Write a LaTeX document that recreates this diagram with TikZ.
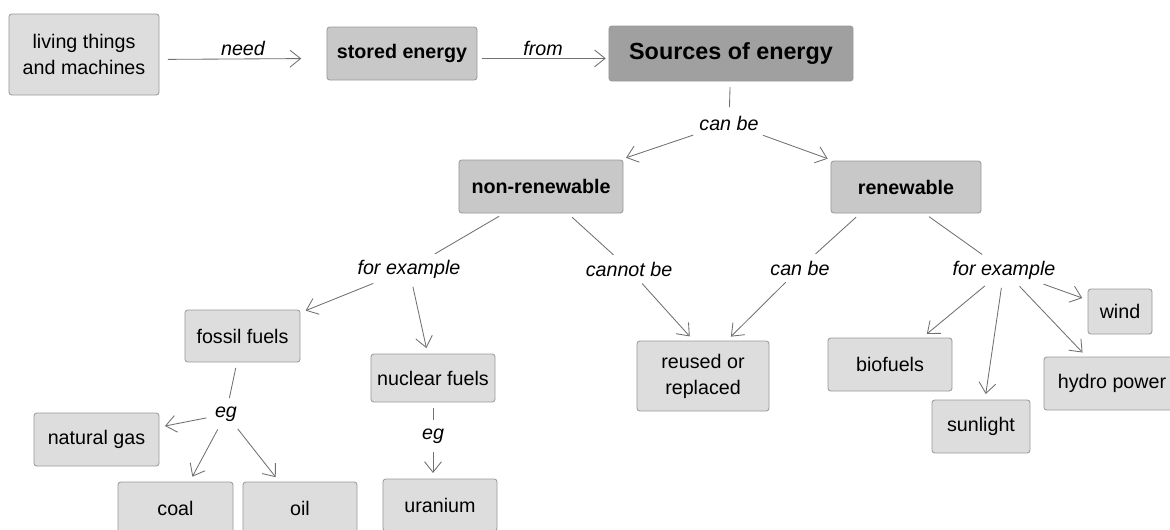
\documentclass[tikz,border=0pt]{standalone}
\usepackage{fontspec}
\setmainfont{Liberation Sans}
\usetikzlibrary{arrows.meta}
\definecolor{boxlight}{HTML}{DDDDDD}
\definecolor{boxmid}{HTML}{C8C8C8}
\definecolor{boxdark}{HTML}{A0A0A0}
\definecolor{boxline}{HTML}{9A9A9A}
\definecolor{linkgray}{HTML}{707070}

\begin{document}
\begin{tikzpicture}[x=0.025cm,y=-0.025cm,
    concept/.style={draw=boxline,fill=boxlight,rounded corners=2pt,line width=0.6pt,inner sep=0pt,align=center,font=\fontsize{14pt}{18.5pt}\selectfont},
    mainconcept/.style={concept,fill=boxmid,font=\fontsize{14pt}{18.5pt}\selectfont\bfseries},
    topconcept/.style={concept,fill=boxdark,font=\fontsize{16.6pt}{20pt}\selectfont\bfseries},
    linkword/.style={inner sep=2pt,font=\fontsize{14pt}{18.5pt}\selectfont\itshape},
    link/.style={draw=linkgray,line width=0.6pt,shorten <=4pt,shorten >=4pt},
    arrow/.style={link,-{Straight Barb[length=7.5pt,width=12pt]}}]
    \useasboundingbox (0,0) rectangle (1170,529);
    \fill[white] (0,0) rectangle (1170,529);
    % top row
    \node[concept,minimum width=3.75cm,minimum height=2.025cm] (living) at (84,54.5) {living things\\and machines};
    \node[mainconcept,minimum width=3.75cm,minimum height=1.325cm] (stored) at (402,53.5) {stored energy};
    \node[topconcept,minimum width=6.1cm,minimum height=1.375cm] (sources) at (731,53.5) {Sources of energy};
    \node[linkword] (canbetop) at (729,123) {can be};
    \node[mainconcept,minimum width=4.1cm,minimum height=1.325cm] (nonrenew) at (541,186.5) {non-renewable};
    \node[mainconcept,minimum width=3.75cm,minimum height=1.3cm] (renew) at (906,187) {renewable};
    \node[linkword] (forexleft) at (409,269) {for example};
    \node[linkword] (cannotbe) at (629,269) {cannot be};
    \node[linkword] (canberight) at (800,268) {can be};
    \node[linkword] (forexright) at (1004,270) {for example};
    % examples
    \node[concept,minimum width=2.875cm,minimum height=1.3cm] (fossil) at (242.5,336) {fossil fuels};
    \node[concept,minimum width=3.1cm,minimum height=1.2cm] (nuclear) at (433,378) {nuclear fuels};
    \node[concept,minimum width=3.3cm,minimum height=1.75cm] (reused) at (703,376) {reused or\\replaced};
    \node[concept,minimum width=3.1cm,minimum height=1.325cm] (biofuels) at (890,364.5) {biofuels};
    \node[concept,minimum width=2.45cm,minimum height=1.325cm] (sunlight) at (981,426.5) {sunlight};
    \node[concept,minimum width=3.4cm,minimum height=1.325cm] (hydro) at (1112,383.5) {hydro power};
    \node[concept,minimum width=1.6cm,minimum height=1.125cm] (wind) at (1120,311.5) {wind};
    \node[linkword] (egfossil) at (226,414) {eg};
    \node[linkword] (egnuclear) at (433,436) {eg};
    \node[concept,minimum width=3.125cm,minimum height=1.325cm] (natgas) at (96.5,439.5) {natural gas};
    \node[concept,minimum width=2.875cm,minimum height=1.3cm] (coal) at (175.5,508) {coal};
    \node[concept,minimum width=2.85cm,minimum height=1.3cm] (oil) at (300,508) {oil};
    \node[concept,minimum width=2.85cm,minimum height=1.3cm] (uranium) at (440,505) {uranium};
    % links
    \draw[arrow,shorten <=6pt,shorten >=18pt] ([yshift=-3.5pt]living.east) -- node[linkword,above] (need) {need} ([yshift=-3.5pt]stored.west);
    \draw[arrow,shorten <=3.5pt,shorten >=2pt] ([yshift=-3.5pt]stored.east) -- node[linkword,above] (from) {from} ([yshift=-3.5pt]sources.west);
    \draw[link] (sources) -- (canbetop);
    \draw[arrow] (canbetop) -- (nonrenew);
    \draw[arrow] (canbetop) -- (renew);
    \draw[link] (nonrenew.-144) -- (forexleft);
    \draw[link] (nonrenew.-45) -- (cannotbe);
    \draw[link] (renew.-150) -- (canberight);
    \draw[link] (renew.-55) -- (forexright);
    \draw[arrow] (forexleft) -- (fossil);
    \draw[arrow] (forexleft) -- (nuclear);
    \draw[arrow] (cannotbe) -- (reused.105);
    \draw[arrow] (canberight) -- (reused.56);
    \draw[arrow] (forexright) -- (biofuels);
    \draw[arrow] (forexright) -- (sunlight);
    \draw[arrow] (forexright) -- (hydro);
    \draw[arrow] (forexright) -- (wind);
    \draw[link] (fossil) -- (egfossil);
    \draw[arrow] (egfossil) -- (natgas);
    \draw[arrow] (egfossil) -- (coal);
    \draw[arrow] (egfossil) -- (oil);
    \draw[link] (nuclear) -- (egnuclear);
    \draw[arrow] (egnuclear) -- (egnuclear |- uranium.north);
\end{tikzpicture}
\end{document}
